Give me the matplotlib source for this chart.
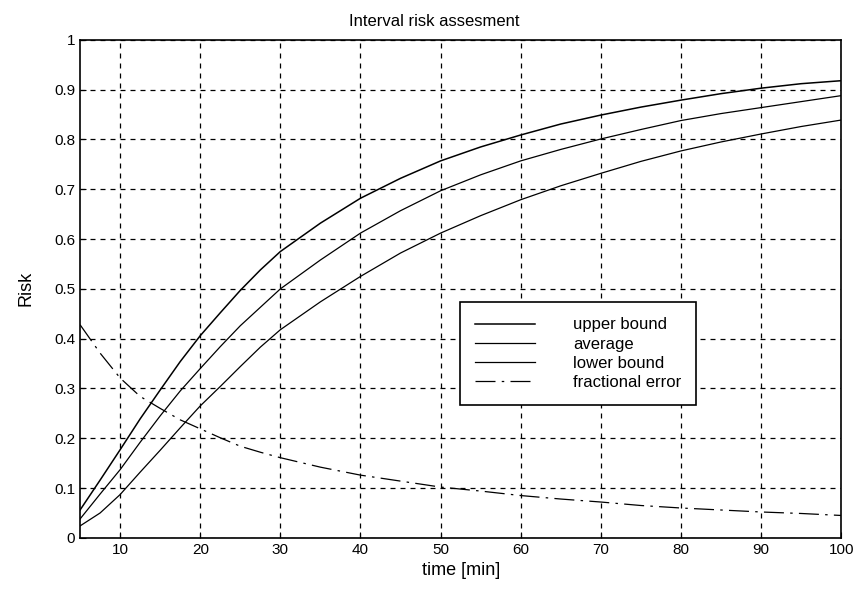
import matplotlib.pyplot as plt

# values
time = [5, 7.5, 10, 12.5, 15, 17.5, 20, 22.5, 25, 27.5, 30, 35, 40, 45, 50,
        55, 60, 65, 70, 75, 80, 85, 90, 95, 100]
upper = [0.056, 0.116, 0.177, 0.239, 0.297, 0.354, 0.406, 0.452, 0.497, 0.538, 0.575,
         0.632, 0.682, 0.722, 0.757, 0.785, 0.809, 0.831, 0.849, 0.865, 0.879,
         0.892, 0.903, 0.912, 0.918]
average = [0.038, 0.088, 0.137, 0.192, 0.245, 0.295, 0.34, 0.384, 0.426, 0.463, 0.50,
           0.558, 0.612, 0.657, 0.697, 0.729, 0.757, 0.780, 0.801, 0.82, 0.838,
           0.852, 0.864, 0.876, 0.888]
lower = [0.024, 0.05, 0.087, 0.132, 0.176, 0.221, 0.265, 0.304, 0.344, 0.383, 0.418,
         0.474, 0.525, 0.572, 0.612, 0.647, 0.679, 0.707, 0.732, 0.756, 0.777,
         0.795, 0.811, 0.826, 0.839]
frac_error = [0.428, 0.371, 0.321, 0.284, 0.26, 0.237, 0.219, 0.201, 0.184, 0.172, 0.161,
              0.142, 0.126, 0.114, 0.102, 0.094, 0.085, 0.078, 0.072, 0.065, 0.060,
              0.056, 0.052, 0.049, 0.045]

xticks = [10, 20, 30, 40, 50, 60, 70, 80, 90, 100]
yticks = [0, 0.1, 0.2, 0.3, 0.4, 0.5, 0.6, 0.7, 0.8, 0.9, 1]

plt.rcParams['font.family'] = ['Liberation Sans', 'DejaVu Sans']

fig = plt.figure(figsize=(8.61, 5.95), dpi=100)
ax = fig.add_axes([0.093, 0.096, 0.884, 0.837])

ax.plot(time, upper, color='black', lw=1.1, label='upper bound')
ax.plot(time, average, color='black', lw=0.9, label='average')
ax.plot(time, lower, color='black', lw=0.9, label='lower bound')
ax.plot(time, frac_error, color='black', lw=0.9, dashes=(16, 5, 2, 5),
        label='fractional error')

ax.set_xlim(5, 100)
ax.set_ylim(0, 1)
ax.set_xticks(xticks)
ax.set_yticks(yticks)
ax.set_yticklabels([('%g' % v) for v in yticks])
ax.tick_params(direction='in', length=4, labelsize=11, colors='black')
ax.grid(True, color='black', lw=0.9, dashes=(4, 4))
for s in ax.spines.values():
    s.set_linewidth(1.2)

ax.set_title('Interval risk assesment', fontsize=12, pad=10, x=0.465)
ax.set_xlabel('time [min]', fontsize=13)
ax.set_ylabel('Risk', fontsize=13, labelpad=14)

leg = ax.legend(loc='lower left', bbox_to_anchor=(0.499, 0.267), fontsize=12,
                frameon=True, fancybox=False, edgecolor='black', framealpha=1,
                handlelength=3.6, handletextpad=2.3, labelspacing=0.25,
                borderpad=0.9, borderaxespad=0)
leg.get_frame().set_linewidth(1.2)

fig.savefig('out.png', dpi=100)
